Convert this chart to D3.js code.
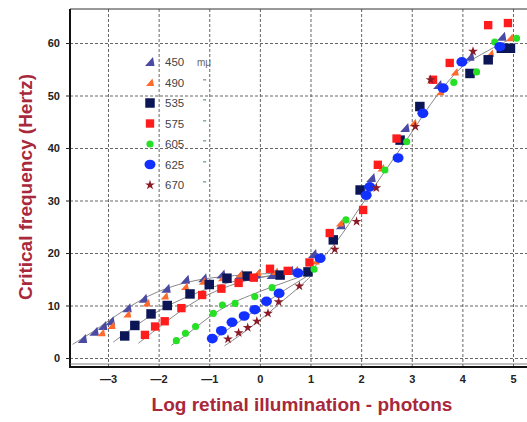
<!DOCTYPE html>
<html>
<head>
<meta charset="utf-8">
<script src="https://cdn.jsdelivr.net/npm/d3@7"></script>
<style>
  body { margin: 0; background: #fff; }
  svg { display: block; font-family: "Liberation Sans", Arial, sans-serif; }
  .grid line { stroke: #555; stroke-width: 0.9; stroke-dasharray: 3,2; }
  .grid path { display: none; }
  .tick text { font-size: 11px; font-weight: bold; fill: #222; }
</style>
</head>
<body>
<script>
// tick values
var xTicks = [-3, -2, -1, 0, 1, 2, 3, 4, 5];
var yTicks = [0, 10, 20, 30, 40, 50, 60];

// legend labels (wavelengths)
var waveLabels = ["450", "490", "535", "575", "605", "625", "670"];

// observed points [log illumination, critical frequency]
var s450 = [[-3.5,3.6],[-3.27,5.0],[-3.1,6.1],[-2.95,7.0],[-2.62,9.5],[-2.3,11.3],[-1.85,13.2],[-1.47,14.9],[-1.12,15.2],[-0.76,15.9],[-0.4,15.8],[-0.07,15.9],[0.23,15.8],[0.59,16.6],[1.05,19.8],[1.6,25.3],[2.2,34.3],[2.87,43.8],[3.52,52],[4.15,57.4],[4.78,61.2]];
var s490 = [[-3.13,4.8],[-2.93,6.2],[-2.62,8.4],[-2.24,10.5],[-1.88,11.8],[-1.48,13.6],[-1.13,14.6],[-0.75,15.3],[-0.4,16.0],[-0.05,16.3],[0.3,16.5],[0.7,16.8],[1.1,18.5],[1.58,25.7],[2.4,36.2],[3.03,44.8],[3.56,50.7],[3.85,54.5],[4.55,58],[4.94,61]];
var s535 = [[-2.67,4.2],[-2.47,6.2],[-2.15,8.4],[-1.83,10],[-1.38,12.2],[-1.0,14.0],[-0.65,15.2],[-0.25,15.6],[0.4,15.8],[0.95,16.4],[1.45,22.5],[1.98,32],[2.77,41.5],[3.16,47.9],[4.15,54.2],[4.51,56.8],[4.77,59],[4.95,59]];
var s575 = [[-2.27,4.4],[-2.07,6],[-1.88,7],[-1.55,9.5],[-1.14,12],[-0.76,13.2],[-0.42,14.3],[-0.12,15.3],[0.2,17],[0.55,16.6],[0.98,18.2],[1.38,23.8],[2.04,28.2],[2.33,36.8],[2.7,41.8],[3.42,53],[3.75,56.2],[4.51,63.4],[4.9,63.8]];
var s605 = [[-1.65,3.3],[-1.47,4.7],[-1.27,6],[-0.92,8.5],[-0.74,10.1],[-0.49,10.4],[-0.1,11.7],[0.24,13.4],[1.07,16.9],[1.7,26.3],[2.47,35.8],[2.9,41.2],[3.83,52.5],[4.28,54.5],[4.64,60.2],[5.07,60.9]];
var s625 = [[-0.94,3.7],[-0.76,5.2],[-0.55,6.8],[-0.31,8],[-0.1,9.2],[0.13,10.8],[0.38,12.3],[0.75,16.2],[1.19,19],[2.1,31],[2.17,32.6],[2.73,38.1],[3.22,46.6],[3.62,51.4],[3.99,56.4],[4.74,59.3]];
var s670 = [[-0.63,3.6],[-0.42,4.8],[-0.24,5.8],[-0.06,7],[0.16,8.5],[0.37,10.7],[0.78,13.7],[1.48,20.7],[1.91,26],[2.3,32.4],[3.07,44.1],[3.37,53],[4.21,58.4]];

// hand-drawn fitted curves
var fitRod450 = [[-3.7,2.6],[-3.3,5],[-3.0,7],[-2.6,9.6],[-2.2,11.8],[-1.8,13.4],[-1.4,14.5],[-1.0,15.2],[-0.5,15.7],[0,16],[0.5,16.2],[1.0,16.5]];
var fitRod535 = [[-2.9,3.0],[-2.5,5.8],[-2.1,8.4],[-1.7,10.5],[-1.3,12.2],[-0.9,13.6],[-0.5,14.6],[0,15.4],[0.5,16],[1,16.5]];
var fitRod575 = [[-2.4,2.8],[-2.0,5.8],[-1.6,8.7],[-1.2,11.2],[-0.8,13],[-0.4,14.4],[0,15.3],[0.5,16],[1,16.5]];
var fitRod605 = [[-1.75,2.4],[-1.4,4.8],[-1.0,7.8],[-0.6,10.2],[-0.2,11.9],[0.2,13.4],[0.6,14.8],[1,16.2]];
var fitRod625 = [[-1.0,2.8],[-0.7,5],[-0.4,7],[-0.1,9],[0.2,11.1],[0.5,13],[0.8,14.8],[1.0,16]];
var fitRod670 = [[-0.7,2.3],[-0.4,4.3],[-0.1,6.5],[0.2,8.8],[0.5,11.3],[0.8,13.7],[1.05,16]];
var fitCone = [[1.0,16.5],[1.5,22],[2,29],[2.5,36],[3,43],[3.5,50],[4,55.5],[4.5,58.5],[5,61]];

var svgWidth = 527;
var svgHeight = 422;

var svg = d3.select("body")
  .append("svg")
  .attr("width", svgWidth)
  .attr("height", svgHeight);

// plot frame in pixels
var frame = { left: 70, right: 527, top: 9, bottom: 367 };

var x = d3.scaleLinear().domain([-3, 5]).range([108, 513]);
var y = d3.scaleLinear().domain([0, 60]).range([358, 43]);

// grid
svg.append("g")
  .attr("class", "grid")
  .attr("transform", `translate(0, ${frame.bottom})`)
  .call(d3.axisBottom(x).tickValues(xTicks).tickSize(-(frame.bottom - frame.top)).tickFormat(""));

svg.append("g")
  .attr("class", "grid")
  .attr("transform", `translate(${frame.left}, 0)`)
  .call(d3.axisLeft(y).tickValues(yTicks).tickSize(-(frame.right - frame.left)).tickFormat(""));

// frame lines
svg.append("line").attr("x1", frame.left).attr("x2", frame.right).attr("y1", frame.top).attr("y2", frame.top)
  .attr("stroke", "#333").attr("stroke-width", 1);
svg.append("line").attr("x1", frame.left).attr("x2", frame.left).attr("y1", frame.top).attr("y2", frame.bottom + 1)
  .attr("stroke", "#111").attr("stroke-width", 2);
svg.append("line").attr("x1", frame.left).attr("x2", frame.right).attr("y1", frame.bottom).attr("y2", frame.bottom)
  .attr("stroke", "#111").attr("stroke-width", 2.2);
svg.append("line").attr("x1", frame.left).attr("x2", frame.right).attr("y1", frame.bottom - 3).attr("y2", frame.bottom - 3)
  .attr("stroke", "#666").attr("stroke-width", 0.8);

// axes labels
var xAxis = svg.append("g")
  .attr("transform", `translate(0, ${frame.bottom})`)
  .call(d3.axisBottom(x).tickValues(xTicks).tickSize(0).tickPadding(8)
    .tickFormat(d => d < 0 ? "\u2014" + (-d) : d));
xAxis.select(".domain").remove();

var yAxis = svg.append("g")
  .attr("transform", `translate(${frame.left}, 0)`)
  .call(d3.axisLeft(y).tickValues(yTicks).tickSize(4).tickPadding(6));
yAxis.select(".domain").remove();
yAxis.selectAll("line").attr("stroke", "#222");

// fitted curves
var line = d3.line()
  .x(d => x(d[0]))
  .y(d => y(d[1]))
  .curve(d3.curveCatmullRom);

[fitRod450, fitRod535, fitRod575, fitRod605, fitRod625, fitRod670, fitCone].forEach(function(c) {
  svg.append("path")
    .attr("d", line(c))
    .attr("fill", "none")
    .attr("stroke", "#888")
    .attr("stroke-width", 1);
});

// marker shapes
var series = [
  { data: s450, color: "#4a4aa2", shape: "M-5,4L4.5,4L3,-5Z" },
  { data: s490, color: "#ff6a2c", shape: "M-4,3.5L4,3.5L2.5,-4Z" },
  { data: s535, color: "#0c1656", shape: d3.symbol(d3.symbolSquare, 90)() },
  { data: s575, color: "#ff1c1c", shape: d3.symbol(d3.symbolSquare, 70)() },
  { data: s605, color: "#25e025", shape: d3.symbol(d3.symbolCircle, 40)() },
  { data: s625, color: "#1230ff", shape: "M-5.5,0A5.5,4.8 0 1,0 5.5,0A5.5,4.8 0 1,0 -5.5,0Z" },
  { data: s670, color: "#8a1a26", shape: d3.symbol(d3.symbolStar, 30)() }
];

series.forEach(function(s) {
  svg.append("g").selectAll("path")
    .data(s.data)
    .enter()
    .append("path")
    .attr("d", s.shape)
    .attr("fill", s.color)
    .attr("transform", d => `translate(${x(d[0])}, ${y(d[1])})`);
});

// legend
var legend = svg.append("g");
series.forEach(function(s, i) {
  var ly = 62 + i * 20.5;
  legend.append("path")
    .attr("d", s.shape)
    .attr("fill", s.color)
    .attr("transform", `translate(150, ${ly})`);
  legend.append("text")
    .attr("x", 165)
    .attr("y", ly + 4)
    .attr("font-size", 11.5)
    .attr("fill", "#444")
    .text(waveLabels[i]);
  legend.append("text")
    .attr("x", i == 0 ? 197 : 203)
    .attr("y", i == 0 ? ly + 4 : ly + 2)
    .attr("font-size", i == 0 ? 10 : 9)
    .attr("fill", "#666")
    .text(i == 0 ? "m\u03bc" : "\u201d");
});

// titles
svg.append("text")
  .attr("transform", `translate(32, 187) rotate(-90)`)
  .attr("text-anchor", "middle")
  .attr("fill", "#a8283c")
  .attr("font-size", 19)
  .attr("font-weight", "bold")
  .text("Critical frequency (Hertz)");

svg.append("text")
  .attr("x", 302)
  .attr("y", 411)
  .attr("text-anchor", "middle")
  .attr("fill", "#a8283c")
  .attr("font-size", 19)
  .attr("font-weight", "bold")
  .text("Log retinal illumination - photons");
</script>
</body>
</html>
